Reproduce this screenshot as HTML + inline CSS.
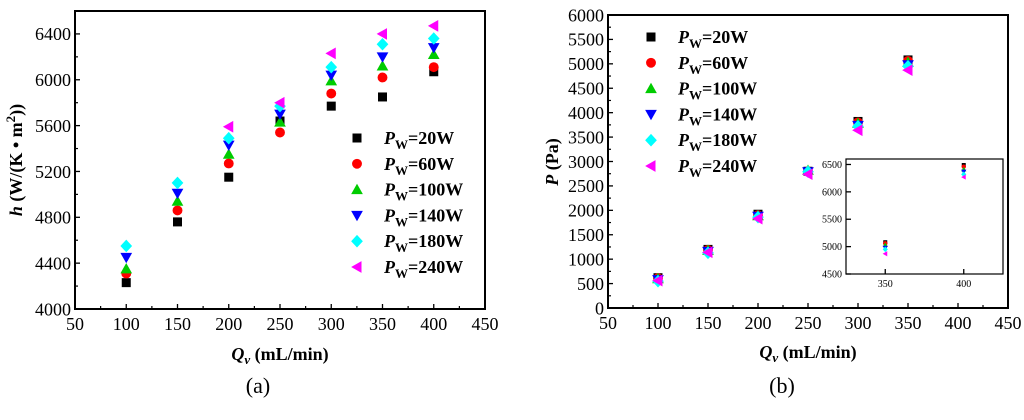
<!DOCTYPE html>
<html><head><meta charset="utf-8"><style>
body{margin:0;background:#fff;width:1024px;height:415px;overflow:hidden}
svg text{font-family:"Liberation Serif",serif}
</style></head><body>
<svg id="s" width="1024" height="415">
<text x="22" y="160" transform="rotate(-90 22 160)" text-anchor="middle" font-size="18" font-weight="bold"><tspan font-style="italic">h</tspan> (W/(K • m<tspan font-size="13" dy="-7">2</tspan><tspan dy="7">))</tspan></text>
<text x="280" y="360" text-anchor="middle" font-size="18" font-weight="bold"><tspan font-style="italic">Q</tspan><tspan font-style="italic" font-size="13" dy="4">v</tspan><tspan dy="-4"> (mL/min)</tspan></text>
<text x="558" y="162" transform="rotate(-90 558 162)" text-anchor="middle" font-size="18" font-weight="bold"><tspan font-style="italic">P</tspan> (Pa)</text>
<text x="808" y="358" text-anchor="middle" font-size="18" font-weight="bold"><tspan font-style="italic">Q</tspan><tspan font-style="italic" font-size="13" dy="4">v</tspan><tspan dy="-4"> (mL/min)</tspan></text>
<text x="258" y="393" text-anchor="middle" font-size="22">(a)</text>
<text x="782" y="393" text-anchor="middle" font-size="22">(b)</text>
</svg>
<script>
const xCats=[100,150,200,250,300,350,400];
const seriesNames=["20W","60W","100W","140W","180W","240W"];
const colors=["#000","#f00","#0c0","#00f","#0ff","#f0f"];
const shapes=["sq","ci","tu","td","di","tl"];
const hVals=[
[4230,4760,5150,5640,5770,5850,6070],
[4310,4860,5270,5540,5880,6020,6110],
[4350,4940,5350,5630,5990,6120,6220],
[4450,5010,5430,5700,6040,6200,6280],
[4550,5100,5490,5770,6110,6310,6360],
[null,null,5590,5800,6230,6400,6470]];
const pVals=[
[620,1200,1920,2800,3820,5080,6490],
[610,1190,1900,2800,3800,5060,6460],
[600,1180,1890,2820,3780,5030,6410],
[580,1160,1880,2790,3740,4980,6370],
[550,1130,1860,2790,3720,4950,6320],
[560,1140,1830,2740,3640,4870,6270]];
const xTicks=[50,100,150,200,250,300,350,400,450];
const hTicks=[4000,4400,4800,5200,5600,6000,6400];
const pTicks=[0,500,1000,1500,2000,2500,3000,3500,4000,4500,5000,5500,6000];
const insetXTicks=[350,400];
const insetYTicks=[4500,5000,5500,6000,6500];
const S=document.getElementById('s'),NS="http://www.w3.org/2000/svg";
function el(t,a,p){const e=document.createElementNS(NS,t);for(const k in a)e.setAttribute(k,a[k]);(p||S).appendChild(e);return e;}
function txt(x,y,s,a,p){const e=el('text',Object.assign({x:x,y:y},a),p);e.textContent=s;return e;}
function marker(g,shape,x,y,r,c){
 let e;
 if(shape=="sq")e=el('rect',{x:x-r,y:y-r,width:2*r,height:2*r,fill:c},g);
 else if(shape=="ci")e=el('circle',{cx:x,cy:y,r:r*1.1,fill:c},g);
 else if(shape=="tu")e=el('polygon',{points:`${x},${y-r*1.3} ${x-r*1.3},${y+r} ${x+r*1.3},${y+r}`,fill:c},g);
 else if(shape=="td")e=el('polygon',{points:`${x},${y+r*1.3} ${x-r*1.3},${y-r} ${x+r*1.3},${y-r}`,fill:c},g);
 else if(shape=="di")e=el('polygon',{points:`${x},${y-r*1.4} ${x+r*1.3},${y} ${x},${y+r*1.4} ${x-r*1.3},${y}`,fill:c},g);
 else e=el('polygon',{points:`${x-r*1.3},${y} ${x+r},${y-r*1.3} ${x+r},${y+r*1.3}`,fill:c},g);
 return e;
}
function chart(cfg){
 const g=el('g',{});
 
 
 const X=v=>cfg.L+(v-cfg.x0)/(cfg.x1-cfg.x0)*(cfg.R-cfg.L);
 const Y=v=>cfg.B-(v-cfg.y0)/(cfg.y1-cfg.y0)*(cfg.B-cfg.T);
 const fr=el('rect',{x:cfg.L,y:cfg.T,width:cfg.R-cfg.L,height:cfg.B-cfg.T,fill:"none",stroke:"#000","stroke-width":cfg.sw||2},g);
 
 const fs=cfg.fs||18;
 cfg.xt.forEach((v,i)=>{const x=X(v);
  el('line',{x1:x,x2:x,y1:cfg.B,y2:cfg.B-5,stroke:"#000","stroke-width":1.3},g);
  if(i<cfg.xt.length-1&&cfg.minor){const xm=X(v+(cfg.xt[1]-cfg.xt[0])/2);el('line',{x1:xm,x2:xm,y1:cfg.B,y2:cfg.B-3,stroke:"#000","stroke-width":1.2},g);}
  const t=txt(x,cfg.B+fs+3,v,{"text-anchor":"middle","font-size":fs},g);
  });
 cfg.yt.forEach((v,i)=>{const y=Y(v);
  el('line',{x1:cfg.L,x2:cfg.L+5,y1:y,y2:y,stroke:"#000","stroke-width":1.3},g);
  if(i<cfg.yt.length-1&&cfg.minor){const ym=Y(v+(cfg.yt[1]-cfg.yt[0])/2);el('line',{x1:cfg.L,x2:cfg.L+3,y1:ym,y2:ym,stroke:"#000","stroke-width":1.2},g);}
  const t=txt(cfg.L-4,y+fs*0.35,v,{"text-anchor":"end","font-size":fs},g);
  });
 cfg.data.forEach((s,si)=>s.forEach((v,i)=>{if(v==null||xCats[i]<cfg.x0||xCats[i]>cfg.x1)return;
  const m=marker(g,shapes[si],X(xCats[i]),Y(v),cfg.r,colors[si]);
  
  }));
 return g;
}
chart({name:'chart-a',L:75,R:485,T:11,B:309,x0:50,x1:450,y0:4000,y1:6600,xt:xTicks,yt:hTicks,data:hVals,r:4.5,minor:true});
chart({name:'chart-b',L:608,R:1008,T:15,B:308,x0:50,x1:450,y0:0,y1:6000,xt:xTicks,yt:pTicks,data:pVals.map(s=>s.slice(0,6)),r:4.5,minor:true});
chart({name:'inset-chart',L:846,R:1003,T:159,B:274,x0:325,x1:425,y0:4500,y1:6600,xt:insetXTicks,yt:insetYTicks,data:pVals,r:2,fs:10,sw:1.2});
function legend(x,y0,name){
 seriesNames.forEach((n,i)=>{const y=y0+i*25.8;
  const m=marker(S,shapes[i],x,y,4.5,colors[i]);
  
  
  const t=txt(x+27,y+6,"",{"font-size":18,"font-weight":"bold"});
  
  
  t.innerHTML='<tspan font-style="italic">P</tspan><tspan font-size="13" dy="5">W</tspan><tspan dy="-5">='+n+'</tspan>';});
}
legend(357,138,'legend-a');
legend(651,37,'legend-b');
</script>
</body></html>
